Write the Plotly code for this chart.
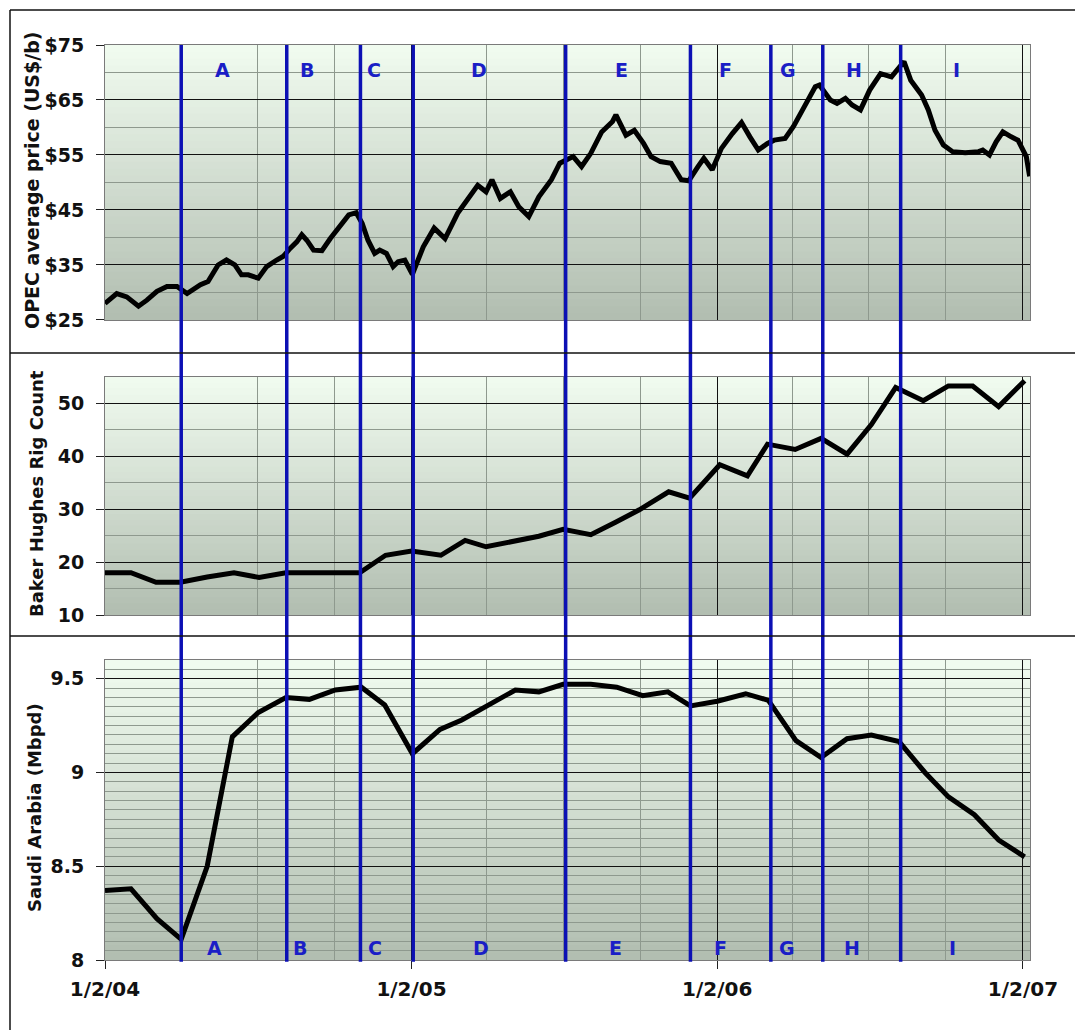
import plotly.graph_objects as go

# ---------------- data ----------------
price_dates = [
    "2004-01-02", "2004-01-16", "2004-01-28", "2004-02-11", "2004-02-21", "2004-03-04",
    "2004-03-16", "2004-03-28", "2004-04-09", "2004-04-25", "2004-05-04", "2004-05-16",
    "2004-05-26", "2004-06-05", "2004-06-13", "2004-06-21", "2004-07-03", "2004-07-13",
    "2004-07-25", "2004-08-02", "2004-08-10", "2004-08-18", "2004-08-24", "2004-08-30",
    "2004-09-07", "2004-09-17", "2004-09-27", "2004-10-09", "2004-10-19", "2004-10-28",
    "2004-11-04", "2004-11-11", "2004-11-19", "2004-11-25", "2004-12-03", "2004-12-11",
    "2004-12-17", "2004-12-25", "2005-01-03", "2005-01-16", "2005-01-29", "2005-02-11",
    "2005-02-26", "2005-03-22", "2005-04-01", "2005-04-08", "2005-04-18", "2005-04-30",
    "2005-05-10", "2005-05-22", "2005-06-03", "2005-06-18", "2005-06-28", "2005-07-14",
    "2005-07-24", "2005-08-04", "2005-08-17", "2005-08-30", "2005-09-03", "2005-09-15",
    "2005-09-25", "2005-10-06", "2005-10-15", "2005-10-26", "2005-11-08", "2005-11-20",
    "2005-11-29", "2005-12-10", "2005-12-17", "2005-12-27", "2006-01-07", "2006-01-20",
    "2006-01-31", "2006-02-10", "2006-02-20", "2006-03-03", "2006-03-11", "2006-03-24",
    "2006-04-03", "2006-04-16", "2006-04-29", "2006-05-04", "2006-05-17", "2006-05-25",
    "2006-06-04", "2006-06-12", "2006-06-22", "2006-07-03", "2006-07-16", "2006-07-29",
    "2006-08-06", "2006-08-13", "2006-08-21", "2006-09-03", "2006-09-11", "2006-09-19",
    "2006-09-29", "2006-10-10", "2006-10-25", "2006-11-10", "2006-11-15", "2006-11-23",
    "2006-12-01", "2006-12-09", "2006-12-19", "2006-12-27", "2007-01-06", "2007-01-10",
]
price_values = [
    28.0, 29.8, 29.2, 27.5, 28.6, 30.2,
    31.1, 31.1, 29.8, 31.4, 32.0, 35.0,
    35.9, 35.0, 33.2, 33.2, 32.6, 34.7,
    35.9, 36.6, 38.0, 39.2, 40.5, 39.5,
    37.7, 37.6, 39.8, 42.0, 44.1, 44.5,
    42.6, 39.5, 37.1, 37.7, 37.1, 34.7,
    35.6, 35.9, 33.3, 38.3, 41.7, 39.8,
    44.4, 49.5, 48.3, 50.5, 47.1, 48.3,
    45.6, 43.8, 47.4, 50.5, 53.5, 54.7,
    52.9, 55.3, 59.2, 61.1, 62.3, 58.6,
    59.5, 57.1, 54.7, 53.8, 53.5, 50.5,
    50.3, 52.9, 54.4, 52.3, 56.2, 58.9,
    60.9, 58.3, 55.9, 57.1, 57.7, 58.0,
    60.2, 63.8, 67.4, 67.7, 65.0, 64.4,
    65.3, 64.1, 63.2, 66.8, 69.8, 69.2,
    70.8, 72.0, 68.6, 65.9, 63.2, 59.5,
    56.8, 55.6, 55.4, 55.6, 55.9, 55.0,
    57.4, 59.2, 58.3, 57.7, 54.7, 51.1,
]

rig_dates = [
    "2004-01-02", "2004-02-02", "2004-03-03", "2004-04-01", "2004-05-03", "2004-06-04",
    "2004-07-04", "2004-08-05", "2004-09-03", "2004-10-02", "2004-11-01", "2004-12-02",
    "2005-01-02", "2005-02-06", "2005-03-07", "2005-04-01", "2005-05-06", "2005-06-03",
    "2005-07-02", "2005-08-04", "2005-09-02", "2005-10-01", "2005-11-05", "2005-11-30",
    "2006-01-05", "2006-02-07", "2006-03-03", "2006-04-05", "2006-05-06", "2006-06-06",
    "2006-07-05", "2006-08-03", "2006-09-05", "2006-10-05", "2006-11-03", "2006-12-04",
    "2007-01-04",
]
rig_values = [
    18.0, 18.0, 16.2, 16.2, 17.2, 18.0,
    17.1, 18.0, 18.0, 18.0, 18.0, 21.3,
    22.1, 21.3, 24.1, 22.9, 24.0, 24.9,
    26.2, 25.2, 27.5, 29.9, 33.3, 32.1,
    38.4, 36.3, 42.3, 41.3, 43.4, 40.4,
    46.0, 53.0, 50.5, 53.3, 53.3, 49.4,
    54.3,
]

saudi_dates = [
    "2004-01-02", "2004-02-02", "2004-03-04", "2004-04-02", "2004-05-03", "2004-06-02",
    "2004-07-03", "2004-08-05", "2004-09-02", "2004-10-03", "2004-11-03", "2004-12-01",
    "2005-01-03", "2005-02-05", "2005-03-03", "2005-04-03", "2005-05-06", "2005-06-03",
    "2005-07-02", "2005-08-04", "2005-09-04", "2005-10-05", "2005-11-04", "2005-12-01",
    "2006-01-02", "2006-02-05", "2006-03-04", "2006-04-06", "2006-05-06", "2006-06-06",
    "2006-07-05", "2006-08-07", "2006-09-07", "2006-10-05", "2006-11-05", "2006-12-04",
    "2007-01-04",
]
saudi_values = [
    8.37, 8.38, 8.22, 8.11, 8.50, 9.19,
    9.32, 9.40, 9.39, 9.44, 9.455, 9.36,
    9.10, 9.23, 9.28, 9.36, 9.44, 9.43,
    9.47, 9.47, 9.455, 9.41, 9.43, 9.355,
    9.38, 9.42, 9.385, 9.17, 9.08, 9.18,
    9.20, 9.165, 9.00, 8.87, 8.775, 8.64,
    8.55,
]

event_dates = ["2004-04-02", "2004-08-06", "2004-11-02", "2005-01-04", "2005-07-05",
               "2005-12-01", "2006-03-07", "2006-05-08", "2006-08-09"]
event_labels = ["A", "B", "C", "D", "E", "F", "G", "H", "I"]
top_label_dates = ["2004-05-21", "2004-08-30", "2004-11-18", "2005-03-24", "2005-09-10",
                   "2006-01-12", "2006-03-27", "2006-06-14", "2006-10-15"]
bottom_label_dates = ["2004-05-12", "2004-08-22", "2004-11-19", "2005-03-26", "2005-09-03",
                      "2006-01-06", "2006-03-26", "2006-06-12", "2006-10-10"]

x_tick_dates = ["2004-01-02", "2005-01-02", "2006-01-02", "2007-01-02"]
x_tick_labels = ["1/2/04", "1/2/05", "1/2/06", "1/2/07"]

# ---------------- figure ----------------
FONT = "DejaVu Sans"
BLUE_LINE = "#0c10b4"
BLUE_TEXT = "#1a1ec6"
PAGE_OFF = 8  # default body margin of the html page

fig = go.Figure()
fig.add_trace(go.Scatter(x=price_dates, y=price_values, xaxis="x", yaxis="y",
                         mode="lines", line=dict(color="black", width=5), showlegend=False))
fig.add_trace(go.Scatter(x=rig_dates, y=rig_values, xaxis="x2", yaxis="y2",
                         mode="lines", line=dict(color="black", width=5), showlegend=False))
fig.add_trace(go.Scatter(x=saudi_dates, y=saudi_values, xaxis="x3", yaxis="y3",
                         mode="lines", line=dict(color="black", width=5), showlegend=False))

x_range = ["2004-01-02", "2007-01-10 10:00"]
common_x = dict(
    type="date", range=x_range, tickmode="array", tickvals=x_tick_dates,
    showgrid=True, gridcolor="#111111", gridwidth=1,
    minor=dict(dtick="M3", tick0="2004-01-02", showgrid=True, gridcolor="#8e998e", gridwidth=1),
    showline=True, linecolor="#7a7a7a", linewidth=1, mirror=True, zeroline=False,
)
common_y = dict(
    showgrid=True, gridcolor="#111111", gridwidth=1,
    showline=True, linecolor="#7a7a7a", linewidth=1, mirror=True, zeroline=False,
    ticks="outside", ticklen=8, tickcolor="#222222", tickwidth=1,
    tickfont=dict(family=FONT, size=19, color="#111111", weight="bold"),
    ticklabelstandoff=8,
)

fig.update_layout(
    width=1083 - PAGE_OFF, height=1030 - PAGE_OFF,
    margin=dict(l=105 - PAGE_OFF, r=53, t=45 - PAGE_OFF, b=70),
    paper_bgcolor="white", plot_bgcolor="#d8e2d8",
    showlegend=False,
    xaxis=dict(**common_x, anchor="y", showticklabels=False, ticks=""),
    xaxis2=dict(**common_x, anchor="y2", matches="x", showticklabels=False, ticks=""),
    xaxis3=dict(**common_x, anchor="y3", matches="x", showticklabels=True,
                ticktext=x_tick_labels, ticks="outside", ticklen=8, tickcolor="#222222",
                tickfont=dict(family=FONT, size=20, color="#111111", weight="bold"),
                ticklabelstandoff=3),
    yaxis=dict(**common_y, domain=[0.6995, 1.0], range=[25, 75], tick0=25, dtick=10,
               tickprefix="$",
               minor=dict(dtick=5, tick0=25, showgrid=True, gridcolor="#8e998e", gridwidth=1)),
    yaxis2=dict(**common_y, domain=[0.3770, 0.6372], range=[10, 55], tick0=10, dtick=10,
                minor=dict(dtick=5, tick0=10, showgrid=True, gridcolor="#8e998e", gridwidth=1)),
    yaxis3=dict(**common_y, domain=[0.0, 0.3279], range=[8, 9.6], tick0=8, dtick=0.5,
                minor=dict(dtick=0.05, tick0=8, showgrid=True, gridcolor="#8e998e", gridwidth=1)),
)

shapes = []
# gradient background bands for each panel
top_rgb = (241, 252, 240)
bot_rgb = (177, 189, 176)
N = 40
for yref_name in ["y", "y2", "y3"]:
    xref_name = {"y": "x", "y2": "x2", "y3": "x3"}[yref_name]
    for i in range(N):
        f = (i + 0.5) / N
        c = tuple(round(bot_rgb[k] + (top_rgb[k] - bot_rgb[k]) * f) for k in range(3))
        shapes.append(dict(type="rect", xref=f"{xref_name} domain", yref=f"{yref_name} domain",
                           x0=0, x1=1, y0=i / N, y1=(i + 1) / N + 0.003,
                           fillcolor=f"rgb{c}", line=dict(width=0), layer="below"))

# event lines spanning all panels
for d in event_dates:
    shapes.append(dict(type="line", xref="x", yref="paper", x0=d, x1=d, y0=-0.002, y1=1.0,
                       line=dict(color=BLUE_LINE, width=3.5), layer="above"))


# outer frame and separators (page pixel -> paper)
def px_to_px(x):
    return (x - 105) / 925.0


def py_to_py(y):
    return (960 - y) / 915.0


frame = dict(color="#111111", width=1.5)
shapes.append(dict(type="line", xref="paper", yref="paper", x0=px_to_px(10), x1=px_to_px(10),
                   y0=py_to_py(1032), y1=py_to_py(10), line=frame))
for yy in [10, 353, 636]:
    shapes.append(dict(type="line", xref="paper", yref="paper", x0=px_to_px(10), x1=px_to_px(1085),
                       y0=py_to_py(yy), y1=py_to_py(yy), line=frame))

annotations = []
for lab, d in zip(event_labels, top_label_dates):
    annotations.append(dict(x=d, y=py_to_py(70), xref="x", yref="paper", text=lab, showarrow=False,
                            font=dict(family=FONT, size=19, color=BLUE_TEXT, weight="bold"),
                            xanchor="center", yanchor="middle"))
for lab, d in zip(event_labels, bottom_label_dates):
    annotations.append(dict(x=d, y=py_to_py(948), xref="x", yref="paper", text=lab, showarrow=False,
                            font=dict(family=FONT, size=19, color=BLUE_TEXT, weight="bold"),
                            xanchor="center", yanchor="middle"))

titles = [("OPEC average price (US$/b)", 32, 180, 19),
          ("Baker Hughes Rig Count", 37, 494, 18),
          ("Saudi Arabia (Mbpd)", 34, 808, 18)]
for txt, tx, ty, fs in titles:
    annotations.append(dict(x=px_to_px(tx), y=py_to_py(ty), xref="paper", yref="paper", text=txt,
                            showarrow=False, textangle=-90, xanchor="center", yanchor="middle",
                            font=dict(family=FONT, size=fs, color="#111111", weight="bold")))

fig.update_layout(shapes=shapes, annotations=annotations)
fig.write_html("out.html")
